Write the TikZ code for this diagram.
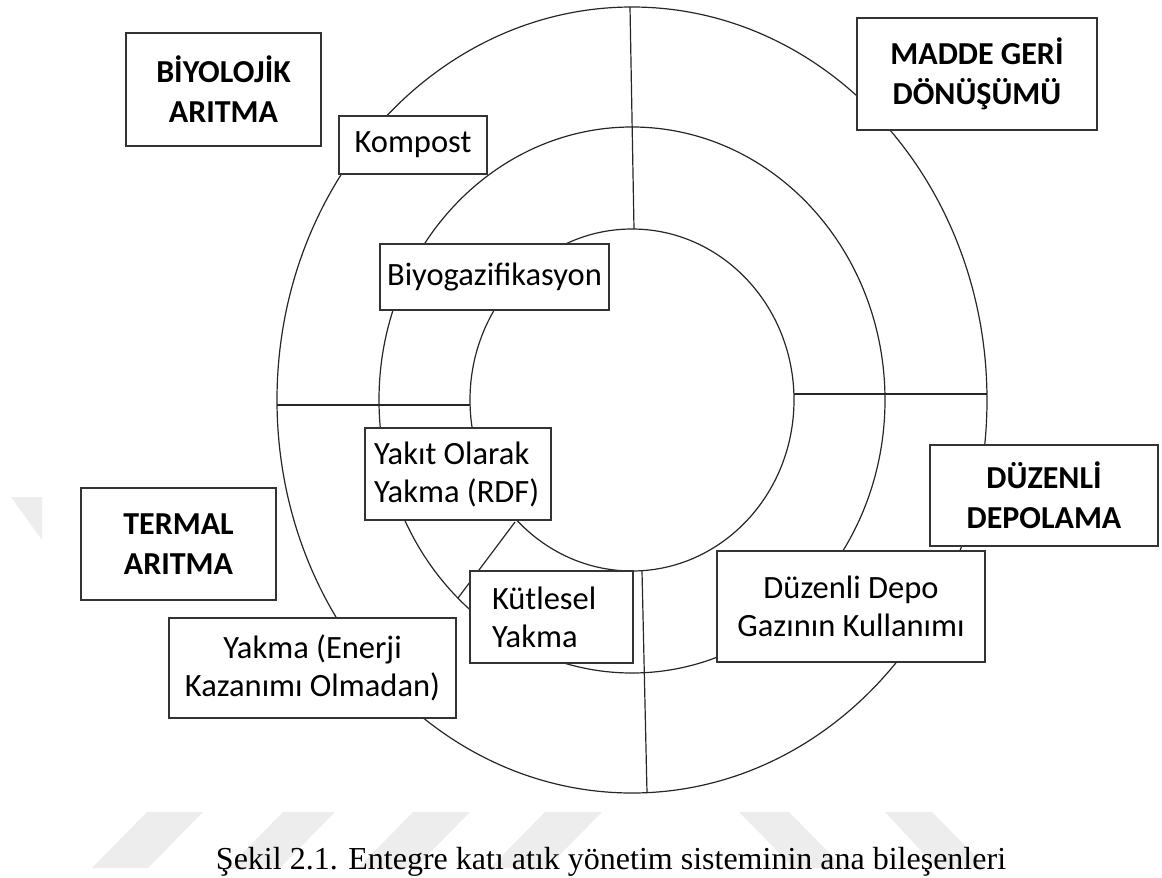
\documentclass[tikz,border=0pt]{standalone}
\usepackage{fontspec}
\setmainfont{Carlito}
\newfontfamily\altyazi{Liberation Serif}
\usetikzlibrary{positioning}

\begin{document}
\begin{tikzpicture}[x=1pt, y=-1pt, line width=1.2pt, draw=black!85,
    kutu/.style={draw=black!80, line width=1.6pt, fill=white, inner sep=0pt, align=center, font=\fontsize{32.5}{38}\selectfont},
    baslik/.style={kutu, font=\fontsize{32}{40}\selectfont\bfseries},
    filigran/.style={fill=black!7, draw=none}]
  \useasboundingbox (0,0) rectangle (1162,878);

  % ==================== filigran ====================
  \fill[filigran] (11,497) -- (42,497) -- (42,540) -- cycle;
  \fill[filigran] (147,812) -- (203,812) -- (148,868) -- (92,868) -- cycle;
  \fill[filigran] (283,812) -- (335,812) -- (280,868) -- (228,868) -- cycle;
  \fill[filigran] (413,812) -- (470,812) -- (415,868) -- (358,868) -- cycle;
  \fill[filigran] (545,812) -- (602,812) -- (547,868) -- (490,868) -- cycle;
  \fill[filigran] (739,812) -- (789,812) -- (844,868) -- (794,868) -- cycle;
  \fill[filigran] (885,812) -- (932,812) -- (987,868) -- (937,868) -- cycle;

  % ==================== halkalar ====================
  \coordinate (M) at (632,400);
  \draw (M) ellipse [x radius=355, y radius=393];
  \draw (M) ellipse [x radius=253, y radius=273];
  \draw (M) ellipse [x radius=162, y radius=171];

  % bölme çizgileri
  \coordinate (ustDis) at (630,7);
  \coordinate (ustIc) at (634,229);
  \coordinate (altIc) at (642,571);
  \coordinate (altDis) at (647,793);
  \coordinate (solDis) at (277,405);
  \coordinate (solIc) at (470,405);
  \coordinate (sagIc) at (794,394);
  \coordinate (sagDis) at (987,394);
  \coordinate (egikIc) at (515,522);
  \coordinate (egikOrta) at (458,598);
  \draw (ustDis) -- (ustIc);
  \draw (altIc) -- (altDis);
  \draw (solDis) -- (solIc);
  \draw (sagIc) -- (sagDis);
  \draw (egikIc) -- (egikOrta);

  % ==================== ana başlıklar ====================
  \node[baslik, minimum width=195pt, minimum height=113pt] (bio) at (223.5,89.5) {BİYOLOJİK\\ARITMA};
  \node[baslik, minimum width=240pt, minimum height=112pt] (madde) at (977,74) {MADDE GERİ\\DÖNÜŞÜMÜ};
  \node[baslik, minimum width=195pt, minimum height=112pt] (termal) at (178.5,544) {TERMAL\\ARITMA};
  \node[baslik, minimum width=228pt, minimum height=101pt] (depolama) at (1044,495.5) {DÜZENLİ\\DEPOLAMA};

  % ==================== yöntemler ====================
  \node[kutu, minimum width=148pt, minimum height=58pt] (kompost) at (413,145) {Kompost};
  \node[kutu, minimum width=229pt, minimum height=66pt] (biyogaz) at (494.5,277) {Biyogazifikasyon};
  \node[kutu, minimum width=186pt, minimum height=92pt, text width=168pt, align=flush left] (yakit) at (458,474) {Yakıt Olarak\\Yakma (RDF)};
  \node[kutu, minimum width=163pt, minimum height=92pt, text width=119pt, align=flush left] (kutlesel) at (551.5,617) {Kütlesel\\Yakma};
  \node[kutu, minimum width=268pt, minimum height=111pt] (depogaz) at (851,606.5) {Düzenli Depo\\Gazının Kullanımı};
  \node[kutu, minimum width=287pt, minimum height=100pt] (yakma) at (312.5,668) {Yakma (Enerji\\Kazanımı Olmadan)};

  % şekil altyazısı
  \node[anchor=base, font=\altyazi\fontsize{32}{38}\selectfont] (sekil) at (611,869) {Şekil 2.1. Entegre katı atık yönetim sisteminin ana bileşenleri};
\end{tikzpicture}
\end{document}
